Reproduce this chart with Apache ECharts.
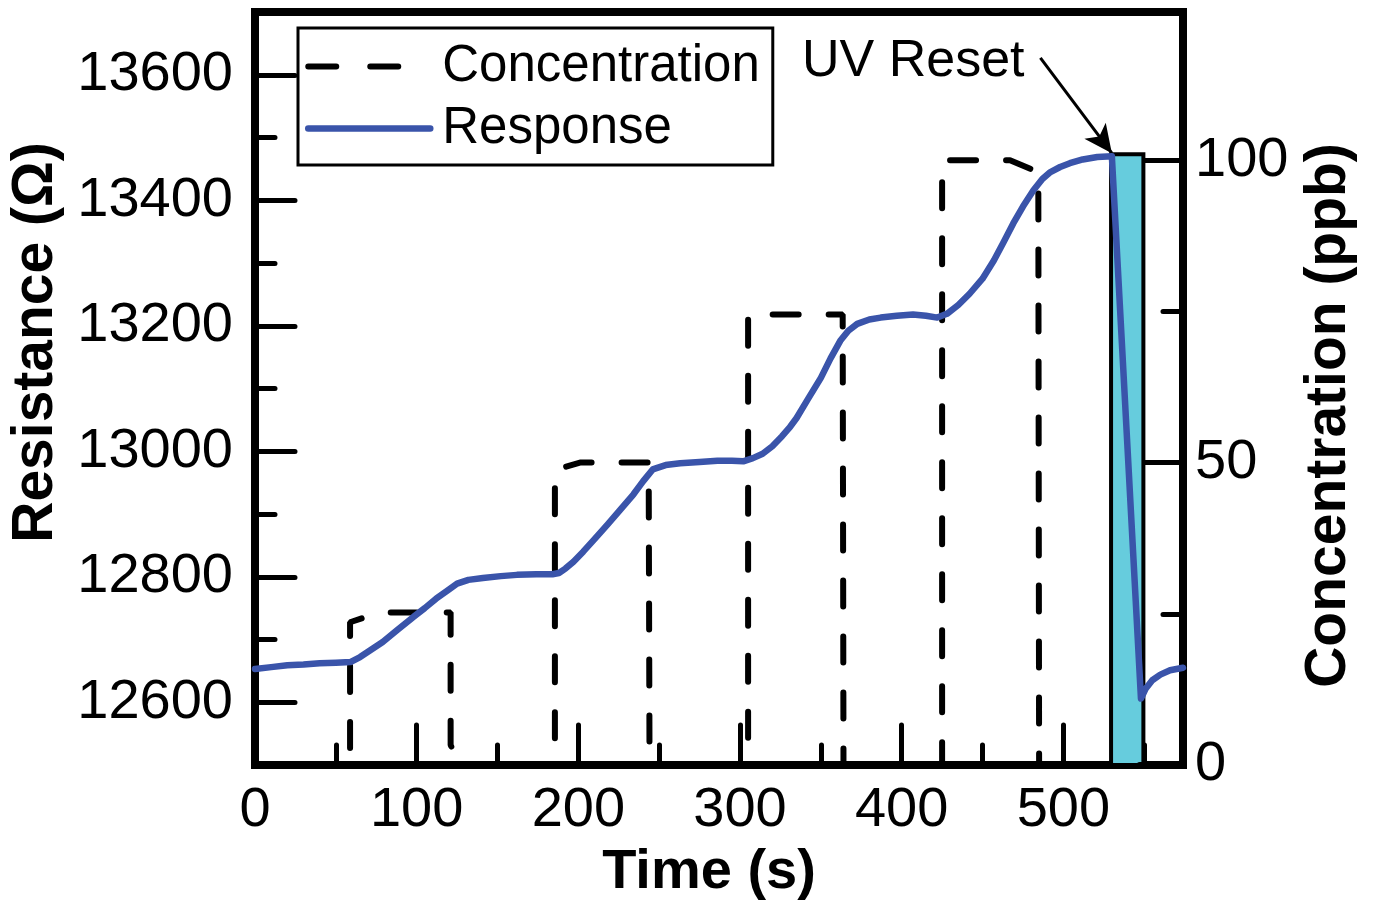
<!DOCTYPE html>
<html>
<head>
<meta charset="utf-8">
<script src="https://cdn.jsdelivr.net/npm/echarts@6/dist/echarts.min.js"></script>
<style>
html,body{margin:0;padding:0;background:#fff;}
#chart{width:1374px;height:901px;}
</style>
</head>
<body>
<div id="chart"></div>
<script>
// ---- data ----
const timeResp = [0, 10, 20, 30, 40, 50, 59, 65, 72, 79, 88, 98, 105, 112, 119, 125, 132, 141, 152, 162, 174, 184,
  188, 192, 197, 203, 210, 218, 226, 234, 240, 246, 254, 263, 275, 286, 295, 302,
  308, 314, 320, 326, 331, 335, 342, 350, 356, 362, 367, 372.5, 380, 387, 397, 407, 415, 422,
  428, 435, 442, 450, 457, 463, 469, 475, 481.5, 487, 492, 498, 504, 512, 521, 530,
  548, 551, 555, 560, 566, 574];
const resistance = [12653, 12656, 12659, 12660, 12662, 12663, 12664, 12672, 12684, 12696, 12715, 12736, 12750, 12765, 12778, 12789, 12795, 12798, 12801, 12803, 12804, 12804,
  12806, 12813, 12824, 12840, 12860, 12883, 12907, 12931, 12952, 12971, 12978, 12981, 12983, 12985, 12985, 12984,
  12989, 12996, 13008, 13024, 13039, 13053, 13083, 13117, 13148, 13176, 13192, 13203, 13210, 13213, 13216, 13218, 13216, 13213,
  13219, 13233, 13251, 13275, 13304, 13333, 13363, 13390, 13416, 13434, 13445, 13453, 13459, 13465, 13469, 13470,
  12606, 12622, 12635, 12644, 12651, 12655];

const timeConc = [0, 58.8, 58.8, 77, 121, 121, 127, 185.5, 185.5, 201, 243.5, 244, 250, 305, 305, 363.5, 364, 425, 425, 467, 484.5, 485, 574];
const concentration = [0, 0, 23.6, 25.2, 25.2, 3.3, 0, 0, 48.8, 50, 50, 3, 0, 0, 74.5, 74.5, 0, 0, 100, 100, 98, 0, 0];

// UV reset window (time span) and its top on the concentration axis
const uvWindow = [529.5, 549.5];
const uvTop = 101;
// arrow of the "UV Reset" note: [time, resistance]
const arrowFrom = [485.8, 13627];
const arrowTo = [530, 13475];

const xMajor = [0, 100, 200, 300, 400, 500];
const xMinor = [50, 150, 250, 350, 450, 550];
const leftMajor = [12600, 12800, 13000, 13200, 13400, 13600];
const leftMinor = [12700, 12900, 13100, 13300, 13500];
const rightMajor = [0, 50, 100];
const rightMinor = [25, 75];

const xRange = [0, 574];
const leftRange = [12500, 13700];
const rightRange = [0, 124.5];

// ---- chart ----
const FONT = "'Liberation Sans', Arial, sans-serif";
const chart = echarts.init(document.getElementById('chart'), null, {renderer: 'canvas'});

const respData = timeResp.map((t, i) => [t, resistance[i]]);
const concData = timeConc.map((t, i) => [t, concentration[i]]);

const tickStyle = {color: '#000', width: 5, cap: 'round'};
const axisLineStyle = {color: '#000', width: 8};
const labelStyle = {color: '#000', fontSize: 56, fontFamily: FONT, formatter: v => String(v)};
const BLUE = '#3a54aa';

const option = {
  animation: false,
  backgroundColor: '#fff',
  grid: {left: 255, right: 191, top: 12, bottom: 136, containLabel: false, outerBoundsMode: 'none',
    show: true, borderColor: '#000', borderWidth: 8, backgroundColor: 'transparent'},
  legend: {
    orient: 'vertical', left: 298, top: 28,
    padding: [13, 13, 11, 7], itemGap: 11,
    itemWidth: 122, itemHeight: 20,
    borderColor: '#000', borderWidth: 3, backgroundColor: '#fff',
    itemStyle: {opacity: 0, borderWidth: 0},
    textStyle: {fontSize: 51, fontFamily: FONT, color: '#000', padding: [0, 0, 0, 7]},
    data: [
      {name: 'Concentration', lineStyle: {width: 6, color: '#000', type: [28, 34], cap: 'round'}},
      {name: 'Response', lineStyle: {width: 6.5, color: BLUE, cap: 'round'}}
    ]
  },
  xAxis: [
    {
      type: 'value', min: xRange[0], max: xRange[1], position: 'bottom',
      name: 'Time (s)', nameLocation: 'middle', nameGap: 80,
      nameTextStyle: {fontSize: 56, fontWeight: 'bold', fontFamily: FONT, color: '#000', padding: [0, 20, 0, 0]},
      axisLine: {show: true, lineStyle: axisLineStyle},
      axisTick: {show: true, inside: true, length: 40, lineStyle: tickStyle, customValues: xMajor},
      axisLabel: {show: true, margin: 18, customValues: xMajor, ...labelStyle},
      splitLine: {show: false}
    },
    {
      type: 'value', min: xRange[0], max: xRange[1], position: 'bottom',
      axisLine: {show: false},
      axisTick: {show: true, inside: true, length: 20, lineStyle: tickStyle, customValues: xMinor},
      axisLabel: {show: false},
      splitLine: {show: false}
    }
  ],
  yAxis: [
    {
      type: 'value', min: leftRange[0], max: leftRange[1], position: 'left',
      name: 'Resistance (Ω)', nameLocation: 'middle', nameGap: 190, nameRotate: 90,
      nameTextStyle: {fontSize: 57, fontWeight: 'bold', fontFamily: FONT, color: '#000', padding: [0, 0, 0, 92]},
      axisLine: {show: true, lineStyle: axisLineStyle},
      axisTick: {show: true, inside: true, length: 40, lineStyle: tickStyle, customValues: leftMajor},
      axisLabel: {show: true, margin: 22, customValues: leftMajor, ...labelStyle},
      splitLine: {show: false}
    },
    {
      type: 'value', min: leftRange[0], max: leftRange[1], position: 'left',
      axisLine: {show: false},
      axisTick: {show: true, inside: true, length: 20, lineStyle: tickStyle, customValues: leftMinor},
      axisLabel: {show: false},
      splitLine: {show: false}
    },
    {
      type: 'value', min: rightRange[0], max: rightRange[1], position: 'right',
      name: 'Concentration (ppb)', nameLocation: 'middle', nameGap: 118, nameRotate: 90,
      nameTextStyle: {fontSize: 57, fontWeight: 'bold', fontFamily: FONT, color: '#000', padding: [0, 54, 0, 0]},
      axisLine: {show: true, lineStyle: axisLineStyle},
      axisTick: {show: true, inside: true, length: 40, lineStyle: tickStyle, customValues: rightMajor},
      axisLabel: {show: true, margin: 12, customValues: rightMajor, ...labelStyle},
      splitLine: {show: false}
    },
    {
      type: 'value', min: rightRange[0], max: rightRange[1], position: 'right',
      axisLine: {show: false},
      axisTick: {show: true, inside: true, length: 20, lineStyle: tickStyle, customValues: rightMinor},
      axisLabel: {show: false},
      splitLine: {show: false}
    }
  ],
  series: [
    {
      name: 'Concentration', type: 'line', xAxisIndex: 0, yAxisIndex: 2,
      data: concData, symbol: 'none', z: 3,
      lineStyle: {color: '#000', width: 6, type: [26, 30], cap: 'round'},
      itemStyle: {color: '#000'},
      emphasis: {disabled: true},
      markArea: {
        silent: true,
        itemStyle: {color: '#66ccdd', borderColor: '#000', borderWidth: 4, opacity: 1},
        data: [[{coord: [uvWindow[0], 0]}, {coord: [uvWindow[1], uvTop]}]]
      }
    },
    {
      name: 'Response', type: 'line', xAxisIndex: 0, yAxisIndex: 0,
      data: respData, symbol: 'none', z: 5,
      lineStyle: {color: BLUE, width: 6.5, cap: 'round', join: 'round'},
      itemStyle: {color: BLUE},
      emphasis: {disabled: true},
      markLine: {
        silent: true,
        symbol: ['none', 'arrow'], symbolSize: [20, 28],
        label: {show: false},
        lineStyle: {color: '#000', width: 3, type: 'solid'},
        data: [[{coord: arrowFrom}, {coord: arrowTo}]]
      }
    }
  ],
  graphic: [
    {
      type: 'text', left: 802, top: 36, z: 10,
      style: {text: 'UV Reset', fontSize: 52, fontFamily: FONT, fill: '#000'}
    }
  ]
};
chart.setOption(option);
</script>
</body>
</html>
